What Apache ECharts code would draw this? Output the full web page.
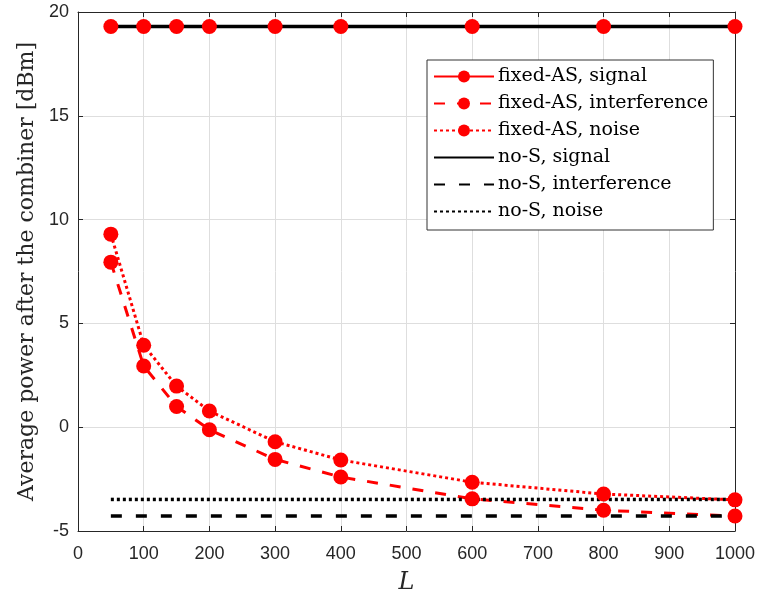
<!DOCTYPE html>
<html><head><meta charset="utf-8">
<script src="https://cdn.jsdelivr.net/npm/echarts@6/dist/echarts.min.js"></script>
<style>html,body{margin:0;padding:0;background:#fff}#c{width:757px;height:593px}</style>
</head><body><div id="c"></div>
<script>
const L = [50, 100, 150, 200, 300, 400, 600, 800, 1000];
const fixedSignal = [19.3, 19.3, 19.3, 19.3, 19.3, 19.3, 19.3, 19.3, 19.3];
const fixedInterference = [7.95, 2.95, 1.0, -0.12, -1.55, -2.4, -3.45, -4.0, -4.28];
const fixedNoise = [9.3, 3.95, 1.98, 0.78, -0.7, -1.58, -2.65, -3.22, -3.5];
const noSSignal = [19.3, 19.3];
const noSInterference = [-4.28, -4.28];
const noSNoise = [-3.48, -3.48];
const noSL = [50, 1000];
const xTicks = [0, 1000, 100];
const yTicks = [-5, 20, 5];

const pair = (xs, ys) => xs.map((x, i) => [x, ys[i]]);
const serif = 'DejaVu Serif';
const chart = echarts.init(document.getElementById('c'));
const axisCol = '#262626';
function redSeries(name, data, type) {
  return { name, type: 'line', data: pair(L, data), symbol: 'circle', symbolSize: 15,
    itemStyle: { color: '#ff0000' },
    lineStyle: { color: '#ff0000', width: 3, type: type }, animation: false };
}
function blackSeries(name, data, type) {
  return { name, type: 'line', data: pair(noSL, data), symbol: 'none',
    itemStyle: { color: '#000' },
    lineStyle: { color: '#000', width: 3.5, type: type }, animation: false };
}
const hidden = { itemStyle: { opacity: 0, color: 'rgba(0,0,0,0)' } };
chart.setOption({
  animation: false,
  grid: { left: 78, right: 22, top: 12, bottom: 62, containLabel: false, outerBoundsMode: 'none' },
  xAxis: [{
    type: 'value', min: xTicks[0], max: xTicks[1], interval: xTicks[2],
    name: 'L', nameLocation: 'middle', nameGap: 40,
    nameTextStyle: { fontFamily: serif, fontStyle: 'italic', fontSize: 24, color: axisCol },
    axisLine: { show: true, onZero: false, lineStyle: { color: axisCol, width: 1 } },
    axisTick: { show: true, inside: true, length: 5, lineStyle: { color: axisCol } },
    axisLabel: { fontFamily: 'Liberation Sans', fontSize: 18, color: axisCol, margin: 14, formatter: v => String(v) },
    splitLine: { show: true, lineStyle: { color: '#dedede', width: 1 } }
  }, {
    type: 'value', position: 'top', min: xTicks[0], max: xTicks[1], interval: xTicks[2],
    axisLine: { show: true, onZero: false, lineStyle: { color: axisCol, width: 1 } },
    axisTick: { show: true, inside: true, length: 5, lineStyle: { color: axisCol } },
    axisLabel: { show: false }, splitLine: { show: false }
  }],
  yAxis: [{
    type: 'value', min: yTicks[0], max: yTicks[1], interval: yTicks[2],
    name: 'Average power after the combiner [dBm]', nameLocation: 'middle', nameGap: 39,
    nameTextStyle: { fontFamily: serif, fontSize: 22, color: axisCol },
    axisLine: { show: true, onZero: false, lineStyle: { color: axisCol, width: 1 } },
    axisTick: { show: true, inside: true, length: 5, lineStyle: { color: axisCol } },
    axisLabel: { fontFamily: 'Liberation Sans', fontSize: 18, color: axisCol, margin: 9 },
    splitLine: { show: true, lineStyle: { color: '#dedede', width: 1 } }
  }, {
    type: 'value', position: 'right', min: yTicks[0], max: yTicks[1], interval: yTicks[2],
    axisLine: { show: true, onZero: false, lineStyle: { color: axisCol, width: 1 } },
    axisTick: { show: true, inside: true, length: 5, lineStyle: { color: axisCol } },
    axisLabel: { show: false }, splitLine: { show: false }
  }],
  legend: {
    orient: 'vertical', left: 427, top: 60,
    backgroundColor: '#fff', borderColor: '#333', borderWidth: 1,
    padding: [7, 5, 9, 6], itemGap: 8, itemWidth: 60, itemHeight: 15,
    textStyle: { fontFamily: serif, fontSize: 19, color: '#000', padding: [0, 0, 0, -1] },
    data: [
      { name: 'fixed-AS, signal' }, { name: 'fixed-AS, interference' }, { name: 'fixed-AS, noise' },
      Object.assign({ name: 'no-S, signal' }, hidden),
      Object.assign({ name: 'no-S, interference' }, hidden),
      Object.assign({ name: 'no-S, noise' }, hidden)
    ]
  },
  series: [
    redSeries('fixed-AS, signal', fixedSignal, 'solid'),
    redSeries('fixed-AS, interference', fixedInterference, [11, 12]),
    redSeries('fixed-AS, noise', fixedNoise, [3, 3]),
    blackSeries('no-S, signal', noSSignal, 'solid'),
    blackSeries('no-S, interference', noSInterference, [11, 14]),
    blackSeries('no-S, noise', noSNoise, [3, 3])
  ]
});
</script></body></html>
